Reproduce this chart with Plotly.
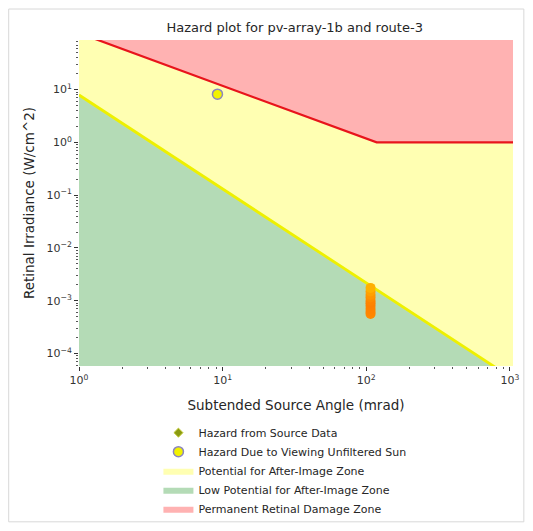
import plotly.graph_objects as go

# ---- data ----
# axis limits (mrad, W/cm^2)
x_limits = [1.0, 1050.0]
y_limits = [5.8e-5, 87.0]

# permanent retinal damage threshold (red line)
burn_x = [1.0, 118.0, 1050.0]
burn_y = [118.0, 1.0, 1.0]

# potential after-image threshold (yellow line)
after_x = [1.0, 1000.0]
after_y = [7.9, 3.6e-5]

# hazard from source data (glare points)
glare_x = [107, 107, 107, 107, 107, 107, 107, 107, 107, 107]
glare_y = [5.6e-4, 6.2e-4, 7.0e-4, 8.0e-4, 9.0e-4, 1.0e-3, 1.15e-3, 1.3e-3, 1.5e-3, 1.75e-3]
glare_c = ["#FF8A00", "#FF8600", "#FF8400", "#FF8200", "#FF8000", "#FF8400", "#FF8C00", "#FF9400", "#FFA000", "#FFB000"]

# hazard due to viewing unfiltered sun
sun_x = [9.2]
sun_y = [8.2]

x_tickvals = [1, 10, 100, 1000]
x_ticktext = ["10<sup>0</sup>", "10<sup>1</sup>", "10<sup>2</sup>", "10<sup>3</sup>"]
y_tickvals = [1e-4, 1e-3, 1e-2, 1e-1, 1, 10]
y_ticktext = ["10<sup>−4</sup>", "10<sup>−3</sup>", "10<sup>−2</sup>", "10<sup>−1</sup>", "10<sup>0</sup>", "10<sup>1</sup>"]

x_minor = [m * 10 ** k for k in range(0, 3) for m in range(2, 10)]
y_minor = [m * 10.0 ** k for k in range(-5, 2) for m in range(2, 10)]

FAR_LO = 1e-6
FAR_HI = 1e3

YELLOW_ZONE = "#FFFFB2"
GREEN_ZONE = "#B4DBB6"
PINK_ZONE = "#FFB2B2"

fig = go.Figure()

# yellow zone (whole area, overdrawn by others)
fig.add_trace(go.Scatter(
    x=[x_limits[0], x_limits[1], x_limits[1], x_limits[0], x_limits[0]],
    y=[FAR_LO, FAR_LO, FAR_HI, FAR_HI, FAR_LO],
    fill="toself", fillcolor=YELLOW_ZONE, line=dict(width=0), mode="lines",
    name="Potential for After-Image Zone", legendrank=3, hoverinfo="skip"))

# green zone (below after-image line)
fig.add_trace(go.Scatter(
    x=after_x + [after_x[-1], after_x[0], after_x[0]],
    y=after_y + [FAR_LO, FAR_LO, after_y[0]],
    fill="toself", fillcolor=GREEN_ZONE, line=dict(width=0), mode="lines",
    name="Low Potential for After-Image Zone", legendrank=4, hoverinfo="skip"))

# pink zone (above burn line)
fig.add_trace(go.Scatter(
    x=burn_x + [burn_x[-1], burn_x[0], burn_x[0]],
    y=burn_y + [FAR_HI, FAR_HI, burn_y[0]],
    fill="toself", fillcolor=PINK_ZONE, line=dict(width=0), mode="lines",
    name="Permanent Retinal Damage Zone", legendrank=5, hoverinfo="skip"))

# threshold lines
fig.add_trace(go.Scatter(x=burn_x, y=burn_y, mode="lines",
                         line=dict(color="#E8141C", width=2.2), showlegend=False))
fig.add_trace(go.Scatter(x=after_x, y=after_y, mode="lines",
                         line=dict(color="#EEF000", width=2.8), showlegend=False))

# glare points
fig.add_trace(go.Scatter(x=glare_x, y=glare_y, mode="markers",
                         marker=dict(color=glare_c, size=10, line=dict(width=0)),
                         showlegend=False))
# legend entry for glare points
fig.add_trace(go.Scatter(x=[None], y=[None], mode="markers",
                         marker=dict(symbol="diamond", color="#8A9A10", size=7,
                                     line=dict(color="#C8D040", width=1)),
                         name="Hazard from Source Data", legendrank=1))

# sun
fig.add_trace(go.Scatter(x=sun_x, y=sun_y, mode="markers",
                         marker=dict(color="#F2F200", size=10,
                                     line=dict(color="#8C86C0", width=1.5)),
                         name="Hazard Due to Viewing Unfiltered Sun", legendrank=2))

axis_common = dict(type="log", showgrid=False, zeroline=False, automargin=False,
                   tickmode="array", ticks="outside", ticklen=4, tickcolor="#333",
                   tickfont=dict(size=11, color="#333"), showline=False)

fig.update_layout(
    width=517, height=515,
    margin=dict(l=71, r=12, t=32, b=157, autoexpand=False),
    paper_bgcolor="white", plot_bgcolor="white",
    font=dict(family="DejaVu Sans", color="#262626", size=11),
    title=dict(text="Hazard plot for pv-array-1b and route-3", x=0.5545, xanchor="center",
               y=0.963, yanchor="middle", font=dict(size=13)),
    showlegend=True,
    legend=dict(x=0.183, y=-0.16, xanchor="left", yanchor="top",
                font=dict(size=11, color="#262626"), bgcolor="rgba(255,255,255,0)",
                traceorder="normal", itemsizing="trace"),
    xaxis=dict(axis_common, range=[0, 3.021], tickvals=x_tickvals, ticktext=x_ticktext,
               minor=dict(tickmode="array", tickvals=x_minor, ticks="outside", ticklen=2,
                          tickcolor="#555", showgrid=False),
               title=dict(text="Subtended Source Angle (mrad)", font=dict(size=13.5), standoff=14)),
    yaxis=dict(axis_common, range=[-4.237, 1.94], tickvals=y_tickvals, ticktext=y_ticktext,
               minor=dict(tickmode="array", tickvals=y_minor, ticks="outside", ticklen=2,
                          tickcolor="#555", showgrid=False),
               title=dict(text="Retinal Irradiance (W/cm^2)", font=dict(size=13.5), standoff=8)),
    shapes=[dict(type="rect", xref="paper", yref="paper",
                 x0=-0.162, x1=1.025, y0=-0.478, y1=1.095,
                 line=dict(color="#D8D8D8", width=1), layer="below")],
)

fig.write_html("out.html")
